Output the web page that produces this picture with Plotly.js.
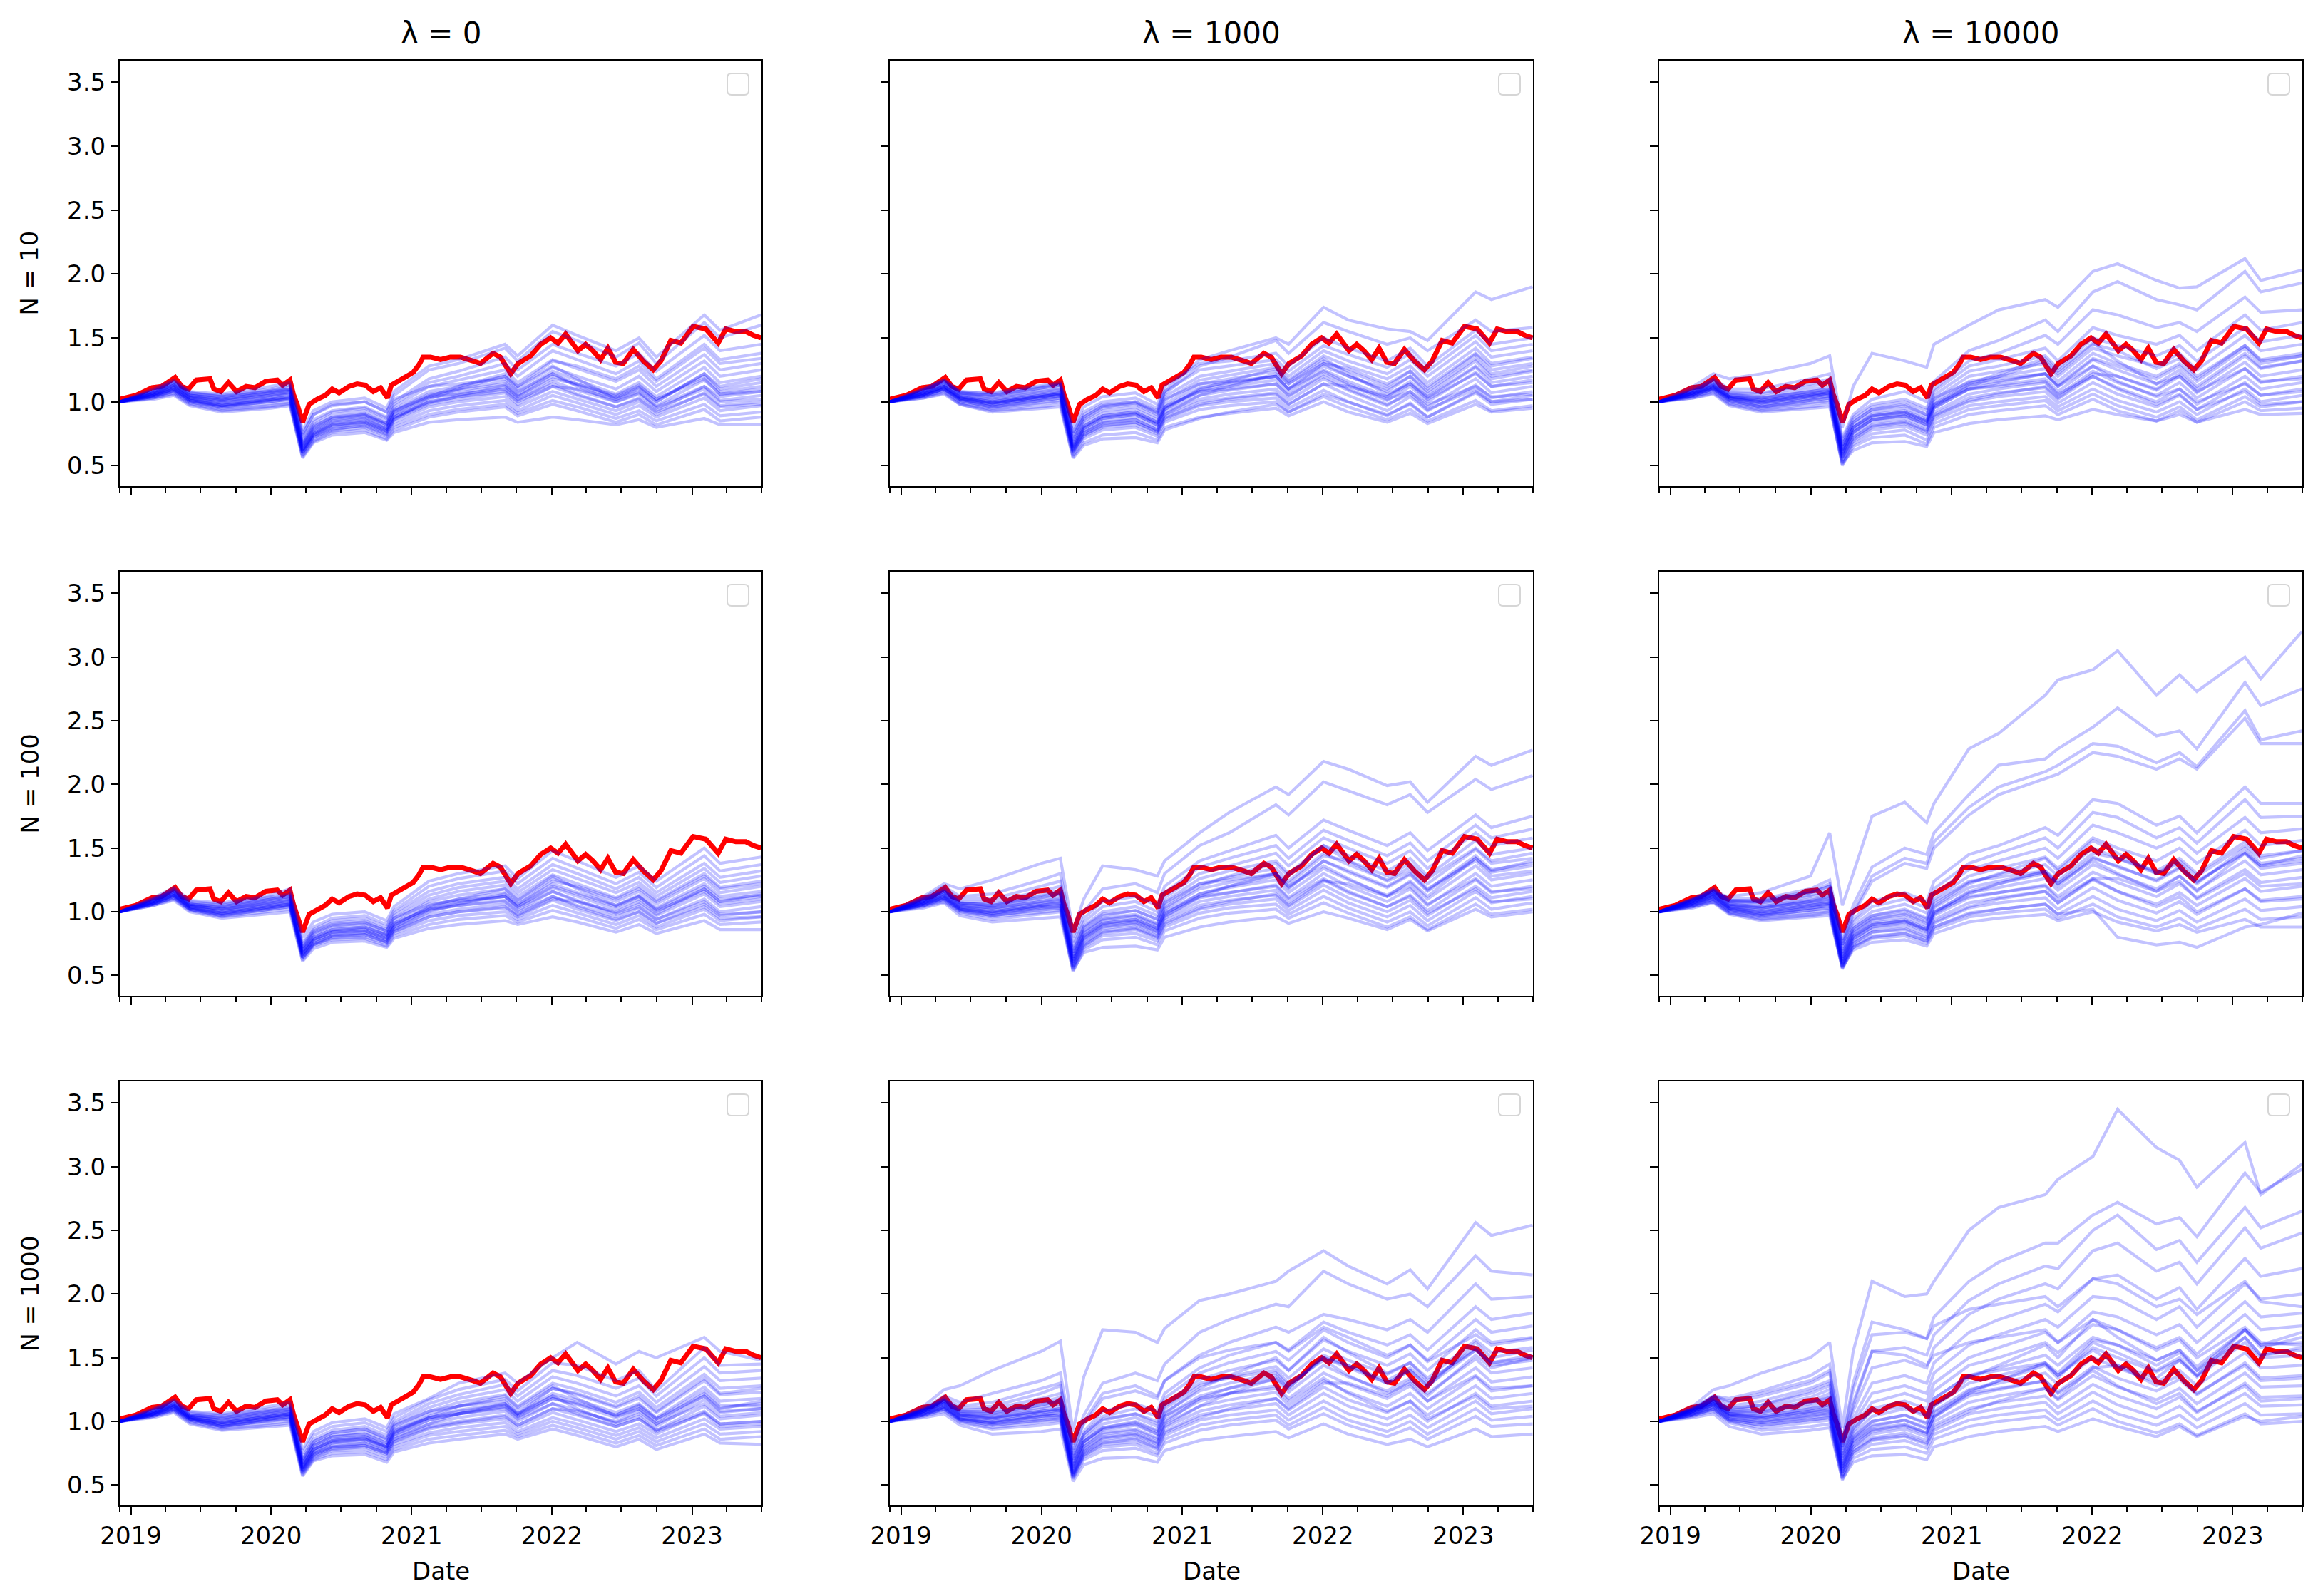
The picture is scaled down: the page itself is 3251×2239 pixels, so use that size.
<!DOCTYPE html>
<html><head><meta charset="utf-8">
<script src="https://cdn.plot.ly/plotly-3.0.1.min.js"></script>
<style>html,body{margin:0;padding:0;background:#fff}#chart{width:3251px;height:2239px}</style>
</head><body><div id="chart"></div>
<script>
const lambdaTitles = ['λ = 0', 'λ = 1000', 'λ = 10000'];
const nLabels = ['N = 10', 'N = 100', 'N = 1000'];
const yearTickVals = ['2019-01-01','2020-01-01','2021-01-01','2022-01-01','2023-01-01'];
const yearTickText = ['2019','2020','2021','2022','2023'];
const quarterTicks = ['2018-12-03','2019-04-01','2019-07-01','2019-10-01','2020-04-01','2020-07-01','2020-10-01','2021-04-01','2021-07-01','2021-10-01','2022-04-01','2022-07-01','2022-10-01','2023-04-01','2023-07-01'];
const yTickVals = [0.5,1.0,1.5,2.0,2.5,3.0,3.5];
const yTickText = ['0.5','1.0','1.5','2.0','2.5','3.0','3.5'];

const redDates = ['2018-12-03','2019-01-14','2019-02-04','2019-02-25','2019-03-22','2019-04-12','2019-04-26','2019-05-13','2019-05-31','2019-06-20','2019-07-26','2019-08-05','2019-08-23','2019-09-12','2019-10-03','2019-10-28','2019-11-20','2019-12-18','2020-01-17','2020-01-31','2020-02-19','2020-02-28','2020-03-09','2020-03-23','2020-04-09','2020-04-30','2020-05-21','2020-06-08','2020-06-26','2020-07-22','2020-08-12','2020-09-02','2020-09-23','2020-10-12','2020-10-30','2020-11-09','2020-12-02','2021-01-05','2021-01-20','2021-01-31','2021-02-19','2021-03-17','2021-04-12','2021-05-08','2021-06-10','2021-06-29','2021-08-01','2021-08-20','2021-09-16','2021-10-05','2021-11-07','2021-12-03','2021-12-29','2022-01-17','2022-02-06','2022-02-25','2022-03-10','2022-03-30','2022-04-18','2022-05-08','2022-05-27','2022-06-16','2022-07-06','2022-08-01','2022-08-27','2022-09-22','2022-10-12','2022-11-07','2022-12-03','2023-01-04','2023-02-06','2023-03-10','2023-03-30','2023-04-25','2023-05-21','2023-06-10','2023-06-30'];
const redValues = [1.02,1.05,1.08,1.11,1.12,1.16,1.19,1.12,1.10,1.17,1.18,1.10,1.08,1.15,1.08,1.12,1.11,1.16,1.17,1.13,1.17,1.06,0.98,0.84,0.98,1.02,1.05,1.10,1.07,1.12,1.14,1.13,1.08,1.11,1.03,1.13,1.17,1.23,1.29,1.35,1.35,1.33,1.35,1.35,1.32,1.30,1.38,1.35,1.22,1.30,1.36,1.45,1.50,1.46,1.53,1.46,1.40,1.45,1.40,1.33,1.42,1.31,1.30,1.41,1.32,1.25,1.32,1.48,1.46,1.59,1.57,1.46,1.57,1.55,1.55,1.52,1.50];

const blueDates = ['2018-12-03','2019-03-01','2019-04-23','2019-06-03','2019-08-26','2019-12-31','2020-02-19','2020-03-23','2020-04-20','2020-06-08','2020-09-01','2020-10-28','2020-11-16','2021-02-15','2021-05-03','2021-09-01','2021-10-04','2022-01-03','2022-03-08','2022-06-17','2022-08-16','2022-09-30','2023-02-02','2023-03-15','2023-06-30'];

const blue_N10_L0 = [
[1.00,1.10,1.17,1.08,1.06,1.12,1.15,0.78,0.93,1.00,1.03,0.95,1.08,1.28,1.33,1.45,1.36,1.60,1.52,1.40,1.50,1.35,1.68,1.56,1.68],
[1.00,1.09,1.16,1.07,1.05,1.10,1.13,0.75,0.90,0.97,1.00,0.92,1.05,1.25,1.30,1.42,1.32,1.55,1.48,1.35,1.46,1.30,1.62,1.50,1.60],
[1.00,1.08,1.15,1.06,1.04,1.08,1.10,0.72,0.86,0.93,0.96,0.88,1.00,1.18,1.24,1.35,1.25,1.45,1.38,1.28,1.38,1.24,1.52,1.40,1.45],
[1.00,1.08,1.14,1.05,1.02,1.07,1.10,0.70,0.84,0.92,0.95,0.87,0.98,1.15,1.20,1.30,1.20,1.40,1.33,1.22,1.32,1.18,1.45,1.33,1.38],
[1.00,1.07,1.13,1.04,1.01,1.06,1.08,0.68,0.82,0.90,0.93,0.85,0.96,1.12,1.17,1.25,1.15,1.33,1.26,1.16,1.25,1.12,1.37,1.25,1.30],
[1.00,1.07,1.13,1.05,1.03,1.08,1.10,0.66,0.80,0.88,0.91,0.83,0.94,1.08,1.12,1.20,1.10,1.27,1.20,1.10,1.20,1.08,1.32,1.20,1.25],
[1.00,1.06,1.12,1.03,0.99,1.04,1.06,0.65,0.78,0.86,0.89,0.82,0.92,1.05,1.10,1.16,1.07,1.24,1.17,1.06,1.15,1.04,1.27,1.15,1.20],
[1.00,1.06,1.11,1.03,1.00,1.05,1.07,0.64,0.77,0.85,0.88,0.80,0.90,1.03,1.07,1.13,1.04,1.20,1.13,1.03,1.11,1.00,1.22,1.10,1.15],
[1.00,1.05,1.10,1.02,0.98,1.02,1.04,0.62,0.75,0.83,0.86,0.79,0.88,1.00,1.04,1.10,1.01,1.16,1.09,1.00,1.07,0.97,1.17,1.06,1.10],
[1.00,1.05,1.10,1.01,0.97,1.01,1.03,0.62,0.74,0.82,0.84,0.77,0.86,0.98,1.02,1.07,0.98,1.12,1.05,0.96,1.03,0.93,1.12,1.01,1.05],
[1.00,1.04,1.09,1.01,0.96,1.00,1.02,0.60,0.73,0.80,0.83,0.76,0.84,0.96,1.00,1.04,0.96,1.08,1.02,0.93,1.00,0.90,1.07,0.97,1.00],
[1.00,1.04,1.08,1.00,0.95,0.99,1.00,0.60,0.72,0.79,0.81,0.74,0.82,0.93,0.97,1.01,0.93,1.05,0.99,0.90,0.97,0.88,1.03,0.93,0.97],
[1.00,1.03,1.07,0.99,0.94,0.97,0.99,0.58,0.70,0.77,0.80,0.73,0.80,0.90,0.94,0.98,0.91,1.01,0.96,0.87,0.93,0.85,0.98,0.89,0.92],
[1.00,1.03,1.06,0.98,0.93,0.96,0.98,0.57,0.69,0.76,0.78,0.71,0.78,0.88,0.92,0.96,0.89,0.98,0.93,0.84,0.90,0.82,0.94,0.85,0.88],
[1.00,1.02,1.05,0.97,0.92,0.95,0.97,0.56,0.68,0.74,0.76,0.70,0.76,0.84,0.86,0.88,0.84,0.88,0.86,0.82,0.86,0.80,0.87,0.82,0.82],
[1.00,1.06,1.12,1.04,1.01,1.05,1.08,0.66,0.79,0.87,0.90,0.82,0.93,1.06,1.09,1.14,1.05,1.22,1.14,1.04,1.12,1.02,1.20,1.08,1.12],
[1.00,1.04,1.08,1.00,0.96,1.00,1.02,0.60,0.72,0.78,0.82,0.75,0.86,1.02,1.10,1.20,1.12,1.32,1.28,1.18,1.28,1.16,1.42,1.30,1.34],
[1.00,1.08,1.15,1.07,1.04,1.09,1.12,0.74,0.90,0.98,1.00,0.92,1.02,1.12,1.14,1.18,1.08,1.22,1.12,1.00,1.06,0.95,1.10,1.00,1.02],
[1.00,1.06,1.11,1.03,0.99,1.03,1.06,0.63,0.76,0.84,0.87,0.79,0.90,1.04,1.12,1.22,1.12,1.28,1.18,1.02,1.08,0.96,1.12,1.04,1.08],
[1.00,1.05,1.10,1.02,0.97,1.02,1.04,0.61,0.74,0.81,0.84,0.77,0.87,0.99,1.04,1.08,1.00,1.12,1.10,1.02,1.10,1.00,1.22,1.12,1.18],
[1.00,1.07,1.13,1.05,1.02,1.07,1.09,0.67,0.81,0.88,0.90,0.83,0.93,1.04,1.06,1.10,1.02,1.14,1.06,0.96,1.02,0.92,1.06,0.96,0.98],
[1.00,1.05,1.09,1.01,0.97,1.01,1.03,0.62,0.75,0.82,0.85,0.78,0.88,1.00,1.05,1.12,1.04,1.18,1.14,1.05,1.13,1.02,1.18,1.06,1.08]
];
const blue_N10_L1000 = [
[1.00,1.10,1.17,1.08,1.06,1.12,1.14,0.76,0.90,0.98,1.00,0.93,1.08,1.33,1.40,1.50,1.45,1.74,1.64,1.57,1.55,1.48,1.86,1.80,1.90],
[1.00,1.09,1.16,1.07,1.05,1.11,1.13,0.74,0.88,0.97,1.00,0.92,1.06,1.28,1.35,1.48,1.38,1.62,1.55,1.45,1.50,1.40,1.64,1.55,1.58],
[1.00,1.10,1.17,1.08,1.07,1.13,1.15,0.80,0.96,1.04,1.07,0.98,1.12,1.30,1.32,1.38,1.28,1.50,1.42,1.32,1.42,1.28,1.56,1.45,1.50],
[1.00,1.09,1.16,1.07,1.05,1.11,1.13,0.76,0.92,1.00,1.03,0.95,1.08,1.25,1.28,1.33,1.24,1.44,1.37,1.27,1.38,1.24,1.52,1.40,1.45],
[1.00,1.08,1.15,1.06,1.04,1.09,1.11,0.72,0.88,0.96,0.99,0.91,1.04,1.20,1.24,1.30,1.20,1.40,1.32,1.22,1.33,1.20,1.47,1.35,1.40],
[1.00,1.08,1.14,1.05,1.02,1.07,1.09,0.70,0.85,0.93,0.96,0.88,1.01,1.17,1.21,1.27,1.17,1.36,1.28,1.18,1.28,1.15,1.42,1.30,1.35],
[1.00,1.07,1.13,1.04,1.01,1.06,1.08,0.68,0.83,0.91,0.94,0.86,0.98,1.14,1.18,1.24,1.14,1.32,1.24,1.12,1.24,1.10,1.37,1.25,1.30],
[1.00,1.07,1.12,1.04,1.00,1.05,1.07,0.66,0.81,0.89,0.92,0.84,0.96,1.11,1.15,1.20,1.10,1.28,1.20,1.08,1.20,1.06,1.32,1.20,1.25],
[1.00,1.06,1.12,1.03,0.99,1.04,1.06,0.64,0.79,0.87,0.90,0.82,0.94,1.08,1.12,1.17,1.07,1.25,1.16,1.04,1.16,1.03,1.27,1.15,1.20],
[1.00,1.06,1.11,1.02,0.98,1.03,1.05,0.63,0.77,0.85,0.88,0.80,0.92,1.05,1.09,1.14,1.04,1.22,1.13,1.01,1.12,1.00,1.23,1.12,1.17],
[1.00,1.05,1.10,1.02,0.97,1.02,1.04,0.62,0.76,0.84,0.86,0.78,0.90,1.02,1.06,1.10,1.01,1.18,1.09,0.97,1.08,0.96,1.18,1.07,1.12],
[1.00,1.05,1.10,1.01,0.96,1.01,1.03,0.61,0.74,0.82,0.84,0.77,0.88,1.00,1.03,1.07,0.98,1.14,1.05,0.93,1.04,0.93,1.13,1.03,1.08],
[1.00,1.04,1.09,1.00,0.95,0.99,1.01,0.60,0.73,0.80,0.82,0.75,0.86,0.97,1.00,1.03,0.95,1.09,1.00,0.89,0.99,0.88,1.07,0.98,1.02],
[1.00,1.04,1.08,0.99,0.94,0.98,1.00,0.58,0.71,0.78,0.80,0.73,0.84,0.94,0.97,1.00,0.92,1.04,0.96,0.86,0.94,0.85,1.01,0.93,0.97],
[1.00,1.03,1.07,0.98,0.93,0.96,0.98,0.57,0.68,0.74,0.76,0.70,0.80,0.88,0.91,0.95,0.89,1.00,0.92,0.84,0.91,0.83,0.98,0.92,0.95],
[1.00,1.03,1.06,0.98,0.92,0.95,0.96,0.56,0.66,0.71,0.72,0.68,0.78,0.87,0.92,0.98,0.92,1.06,1.00,0.90,0.98,0.88,1.08,1.00,1.05],
[1.00,1.05,1.10,1.02,0.98,1.03,1.05,0.62,0.76,0.83,0.86,0.78,0.90,1.05,1.12,1.22,1.14,1.30,1.26,1.14,1.24,1.12,1.38,1.28,1.34],
[1.00,1.08,1.14,1.06,1.03,1.08,1.10,0.70,0.86,0.95,0.98,0.90,1.02,1.14,1.16,1.20,1.10,1.24,1.14,1.02,1.08,0.98,1.12,1.04,1.06],
[1.00,1.06,1.11,1.03,0.99,1.04,1.06,0.64,0.79,0.87,0.90,0.82,0.94,1.10,1.16,1.26,1.16,1.34,1.22,1.06,1.14,1.02,1.22,1.12,1.15],
[1.00,1.05,1.10,1.01,0.96,1.01,1.03,0.61,0.74,0.81,0.84,0.76,0.87,0.98,1.02,1.06,0.98,1.14,1.12,1.04,1.14,1.04,1.28,1.18,1.24],
[1.00,1.07,1.12,1.04,1.00,1.05,1.07,0.66,0.81,0.89,0.92,0.84,0.96,1.08,1.10,1.14,1.05,1.20,1.10,0.98,1.06,0.94,1.10,1.00,1.02],
[1.00,1.06,1.12,1.03,0.99,1.04,1.06,0.65,0.80,0.88,0.91,0.83,0.95,1.09,1.14,1.20,1.10,1.30,1.20,1.10,1.20,1.08,1.34,1.22,1.28]
];
const blue_N10_L10000 = [
[1.00,1.12,1.22,1.18,1.22,1.30,1.36,0.80,1.12,1.38,1.32,1.27,1.45,1.60,1.72,1.80,1.74,2.02,2.08,1.95,1.89,1.90,2.12,1.95,2.03],
[1.00,1.10,1.18,1.10,1.10,1.18,1.22,0.72,0.90,1.02,1.08,1.00,1.16,1.40,1.48,1.64,1.55,1.86,1.94,1.80,1.76,1.72,2.02,1.86,1.93],
[1.00,1.09,1.17,1.08,1.07,1.14,1.18,0.70,0.88,0.98,1.02,0.95,1.10,1.32,1.38,1.52,1.45,1.72,1.68,1.58,1.62,1.55,1.82,1.70,1.72],
[1.00,1.09,1.16,1.07,1.06,1.12,1.15,0.68,0.86,0.96,1.00,0.93,1.08,1.28,1.33,1.42,1.32,1.58,1.52,1.45,1.52,1.40,1.68,1.56,1.62],
[1.00,1.08,1.15,1.06,1.04,1.10,1.12,0.66,0.84,0.94,0.98,0.90,1.05,1.24,1.28,1.36,1.26,1.50,1.44,1.36,1.44,1.32,1.58,1.47,1.52],
[1.00,1.08,1.14,1.05,1.03,1.08,1.10,0.64,0.82,0.92,0.95,0.88,1.02,1.20,1.24,1.30,1.20,1.42,1.36,1.28,1.38,1.25,1.52,1.40,1.45],
[1.00,1.07,1.13,1.04,1.02,1.07,1.09,0.62,0.80,0.90,0.93,0.86,1.00,1.16,1.20,1.26,1.16,1.38,1.30,1.20,1.30,1.18,1.44,1.33,1.38],
[1.00,1.07,1.12,1.04,1.01,1.06,1.08,0.60,0.78,0.88,0.91,0.84,0.97,1.13,1.16,1.22,1.12,1.33,1.25,1.14,1.25,1.12,1.38,1.27,1.32],
[1.00,1.06,1.12,1.03,1.00,1.05,1.07,0.58,0.76,0.86,0.89,0.82,0.95,1.10,1.13,1.18,1.08,1.28,1.20,1.09,1.20,1.07,1.31,1.20,1.25],
[1.00,1.06,1.11,1.02,0.98,1.03,1.05,0.57,0.74,0.84,0.87,0.80,0.92,1.06,1.10,1.15,1.05,1.24,1.15,1.05,1.15,1.03,1.26,1.15,1.20],
[1.00,1.05,1.10,1.02,0.97,1.02,1.04,0.56,0.72,0.82,0.85,0.78,0.90,1.03,1.07,1.11,1.02,1.20,1.11,1.00,1.10,0.98,1.20,1.10,1.15],
[1.00,1.05,1.10,1.01,0.96,1.01,1.03,0.54,0.70,0.80,0.83,0.76,0.88,1.00,1.04,1.08,0.99,1.15,1.06,0.96,1.05,0.94,1.15,1.05,1.10],
[1.00,1.04,1.09,1.00,0.95,0.99,1.01,0.53,0.69,0.78,0.81,0.74,0.86,0.97,1.00,1.04,0.96,1.10,1.01,0.92,1.00,0.90,1.10,1.00,1.05],
[1.00,1.04,1.08,0.99,0.94,0.98,1.00,0.51,0.67,0.75,0.78,0.70,0.83,0.94,0.97,1.01,0.93,1.06,0.97,0.88,0.96,0.86,1.04,0.96,1.00],
[1.00,1.03,1.07,0.98,0.93,0.96,0.98,0.50,0.65,0.72,0.74,0.67,0.80,0.90,0.93,0.97,0.90,1.02,0.93,0.85,0.93,0.84,1.00,0.93,0.95],
[1.00,1.03,1.06,0.97,0.92,0.95,0.96,0.52,0.62,0.68,0.69,0.65,0.76,0.83,0.86,0.89,0.86,0.94,0.90,0.85,0.90,0.84,0.94,0.90,0.91],
[1.00,1.06,1.11,1.03,0.99,1.04,1.06,0.60,0.77,0.86,0.90,0.83,0.96,1.12,1.20,1.32,1.22,1.45,1.40,1.26,1.34,1.20,1.44,1.32,1.36],
[1.00,1.08,1.14,1.06,1.03,1.08,1.10,0.66,0.84,0.94,0.97,0.90,1.03,1.15,1.18,1.22,1.12,1.28,1.16,1.04,1.10,1.00,1.14,1.05,1.08],
[1.00,1.07,1.12,1.04,1.00,1.05,1.07,0.62,0.80,0.89,0.92,0.85,0.98,1.14,1.22,1.34,1.24,1.46,1.32,1.14,1.20,1.08,1.26,1.16,1.18],
[1.00,1.05,1.10,1.01,0.96,1.01,1.03,0.56,0.72,0.81,0.84,0.77,0.89,1.01,1.06,1.12,1.03,1.22,1.20,1.10,1.22,1.10,1.36,1.26,1.32],
[1.00,1.07,1.13,1.04,1.01,1.06,1.08,0.63,0.80,0.89,0.92,0.85,0.98,1.10,1.12,1.16,1.06,1.20,1.10,0.98,1.06,0.94,1.08,0.98,1.00],
[1.00,1.06,1.11,1.03,0.99,1.04,1.06,0.59,0.76,0.86,0.89,0.82,0.95,1.10,1.15,1.22,1.13,1.34,1.28,1.18,1.28,1.16,1.42,1.30,1.36]
];
const blue_N100_L0 = [
[1.00,1.11,1.19,1.09,1.07,1.13,1.18,0.80,0.92,0.98,1.00,0.93,1.04,1.24,1.30,1.36,1.26,1.48,1.40,1.27,1.36,1.24,1.50,1.38,1.43],
[1.00,1.10,1.18,1.08,1.06,1.12,1.14,0.76,0.88,0.95,0.97,0.90,1.01,1.20,1.26,1.32,1.22,1.42,1.34,1.22,1.31,1.19,1.44,1.32,1.37],
[1.00,1.10,1.17,1.07,1.05,1.11,1.13,0.74,0.86,0.93,0.95,0.88,0.99,1.16,1.22,1.27,1.18,1.37,1.30,1.18,1.27,1.15,1.38,1.27,1.32],
[1.00,1.09,1.16,1.06,1.04,1.10,1.12,0.72,0.85,0.91,0.93,0.86,0.97,1.13,1.19,1.24,1.15,1.33,1.26,1.15,1.23,1.12,1.34,1.23,1.28],
[1.00,1.09,1.16,1.06,1.03,1.09,1.11,0.71,0.83,0.89,0.91,0.85,0.95,1.10,1.16,1.21,1.12,1.29,1.22,1.11,1.20,1.09,1.30,1.19,1.24],
[1.00,1.08,1.15,1.05,1.02,1.08,1.10,0.70,0.82,0.88,0.90,0.83,0.93,1.08,1.13,1.18,1.09,1.26,1.19,1.08,1.16,1.06,1.26,1.15,1.20],
[1.00,1.08,1.15,1.05,1.02,1.07,1.09,0.69,0.80,0.86,0.88,0.82,0.91,1.05,1.10,1.15,1.06,1.22,1.15,1.05,1.13,1.03,1.22,1.12,1.16],
[1.00,1.08,1.14,1.04,1.01,1.06,1.08,0.68,0.79,0.85,0.87,0.81,0.90,1.03,1.08,1.12,1.04,1.19,1.12,1.02,1.10,1.00,1.18,1.08,1.12],
[1.00,1.07,1.13,1.04,1.00,1.05,1.07,0.67,0.78,0.84,0.85,0.79,0.88,1.01,1.05,1.09,1.01,1.16,1.09,0.99,1.06,0.97,1.14,1.04,1.08],
[1.00,1.07,1.13,1.03,0.99,1.04,1.06,0.66,0.77,0.82,0.84,0.78,0.86,0.98,1.02,1.06,0.98,1.12,1.05,0.96,1.03,0.94,1.10,1.00,1.04],
[1.00,1.06,1.12,1.03,0.98,1.03,1.05,0.65,0.75,0.81,0.82,0.76,0.84,0.96,1.00,1.03,0.96,1.09,1.02,0.93,1.00,0.91,1.06,0.97,1.00],
[1.00,1.06,1.11,1.02,0.97,1.02,1.04,0.64,0.74,0.79,0.80,0.75,0.83,0.93,0.97,1.00,0.94,1.05,0.99,0.90,0.97,0.88,1.02,0.93,0.96],
[1.00,1.05,1.10,1.01,0.96,1.00,1.02,0.62,0.73,0.78,0.79,0.73,0.81,0.90,0.94,0.97,0.92,1.01,0.96,0.87,0.94,0.86,0.98,0.90,0.92],
[1.00,1.05,1.09,1.00,0.95,0.99,1.00,0.61,0.71,0.76,0.77,0.72,0.79,0.87,0.90,0.93,0.90,0.96,0.92,0.84,0.90,0.83,0.93,0.86,0.86],
[1.00,1.06,1.12,1.02,0.98,1.03,1.05,0.64,0.75,0.81,0.83,0.77,0.86,1.00,1.06,1.14,1.06,1.24,1.20,1.10,1.18,1.08,1.28,1.18,1.22],
[1.00,1.09,1.16,1.06,1.04,1.10,1.12,0.72,0.84,0.90,0.92,0.85,0.95,1.06,1.09,1.12,1.03,1.16,1.08,0.98,1.04,0.94,1.08,0.98,1.00],
[1.00,1.07,1.13,1.04,1.00,1.05,1.07,0.67,0.78,0.84,0.86,0.80,0.89,1.04,1.10,1.18,1.09,1.28,1.18,1.05,1.12,1.01,1.16,1.06,1.10],
[1.00,1.06,1.11,1.02,0.97,1.02,1.04,0.64,0.74,0.80,0.82,0.76,0.85,0.96,1.00,1.04,0.97,1.10,1.08,1.00,1.08,0.98,1.18,1.08,1.14],
[1.00,1.08,1.14,1.05,1.02,1.07,1.09,0.69,0.80,0.86,0.88,0.82,0.91,1.02,1.05,1.08,1.00,1.12,1.04,0.94,1.00,0.91,1.04,0.95,0.96],
[1.00,1.07,1.13,1.03,0.99,1.04,1.06,0.66,0.77,0.83,0.85,0.79,0.88,1.02,1.07,1.12,1.04,1.20,1.14,1.04,1.12,1.02,1.20,1.10,1.13]
];
const blue_N100_L1000 = [
[1.00,1.12,1.22,1.18,1.25,1.38,1.42,0.85,1.10,1.36,1.33,1.28,1.40,1.62,1.78,1.98,1.92,2.18,2.12,1.99,2.02,1.86,2.22,2.15,2.27],
[1.00,1.11,1.20,1.12,1.14,1.25,1.30,0.80,1.00,1.18,1.22,1.15,1.30,1.52,1.62,1.84,1.76,2.02,1.95,1.84,1.92,1.78,2.04,1.96,2.07],
[1.00,1.10,1.18,1.10,1.10,1.20,1.24,0.76,0.95,1.08,1.12,1.05,1.20,1.40,1.48,1.60,1.50,1.72,1.64,1.52,1.62,1.48,1.76,1.66,1.75],
[1.00,1.10,1.17,1.08,1.08,1.16,1.20,0.73,0.92,1.04,1.08,1.00,1.15,1.35,1.42,1.52,1.42,1.64,1.56,1.44,1.54,1.40,1.68,1.58,1.65],
[1.00,1.09,1.16,1.07,1.06,1.13,1.17,0.70,0.89,1.00,1.04,0.97,1.11,1.30,1.36,1.46,1.36,1.58,1.50,1.38,1.48,1.34,1.62,1.52,1.58],
[1.00,1.09,1.16,1.07,1.05,1.12,1.15,0.68,0.87,0.97,1.01,0.94,1.08,1.26,1.32,1.40,1.30,1.52,1.44,1.32,1.42,1.28,1.56,1.45,1.50],
[1.00,1.08,1.15,1.06,1.04,1.10,1.13,0.66,0.85,0.95,0.98,0.91,1.05,1.22,1.27,1.34,1.24,1.46,1.37,1.25,1.35,1.22,1.49,1.38,1.42],
[1.00,1.08,1.14,1.05,1.03,1.08,1.11,0.64,0.83,0.93,0.96,0.89,1.02,1.18,1.23,1.30,1.19,1.40,1.31,1.19,1.29,1.16,1.42,1.31,1.36],
[1.00,1.07,1.13,1.04,1.02,1.07,1.09,0.62,0.81,0.91,0.94,0.87,1.00,1.14,1.19,1.25,1.15,1.34,1.25,1.13,1.23,1.10,1.36,1.25,1.30],
[1.00,1.07,1.12,1.03,1.00,1.05,1.07,0.60,0.79,0.89,0.92,0.85,0.97,1.11,1.15,1.21,1.11,1.30,1.20,1.08,1.18,1.05,1.30,1.20,1.25],
[1.00,1.06,1.11,1.02,0.99,1.04,1.05,0.58,0.77,0.87,0.90,0.83,0.95,1.08,1.12,1.17,1.07,1.25,1.15,1.04,1.13,1.01,1.25,1.15,1.20],
[1.00,1.06,1.11,1.02,0.98,1.03,1.04,0.57,0.75,0.85,0.88,0.81,0.93,1.05,1.09,1.13,1.04,1.21,1.11,1.00,1.09,0.97,1.20,1.11,1.16],
[1.00,1.05,1.10,1.01,0.97,1.01,1.03,0.56,0.73,0.83,0.86,0.79,0.90,1.02,1.06,1.10,1.01,1.17,1.07,0.96,1.05,0.93,1.16,1.07,1.12],
[1.00,1.05,1.09,1.00,0.96,1.00,1.01,0.55,0.72,0.81,0.83,0.77,0.88,0.99,1.03,1.06,0.98,1.12,1.03,0.92,1.00,0.89,1.11,1.02,1.07],
[1.00,1.04,1.08,0.99,0.94,0.98,1.00,0.53,0.70,0.78,0.80,0.74,0.85,0.95,0.99,1.02,0.95,1.07,0.99,0.88,0.96,0.86,1.06,0.98,1.02],
[1.00,1.03,1.07,0.97,0.92,0.95,0.96,0.54,0.68,0.72,0.73,0.70,0.80,0.88,0.92,0.96,0.91,1.00,0.95,0.86,0.94,0.85,1.02,0.96,1.00],
[1.00,1.06,1.11,1.02,0.99,1.04,1.05,0.60,0.78,0.88,0.91,0.84,0.96,1.12,1.20,1.30,1.22,1.44,1.40,1.28,1.38,1.26,1.50,1.40,1.46],
[1.00,1.09,1.16,1.07,1.05,1.11,1.14,0.68,0.88,0.98,1.01,0.94,1.07,1.22,1.25,1.30,1.20,1.36,1.26,1.12,1.20,1.06,1.26,1.16,1.18],
[1.00,1.08,1.14,1.05,1.03,1.08,1.10,0.64,0.84,0.94,0.97,0.90,1.03,1.20,1.28,1.38,1.28,1.52,1.40,1.24,1.32,1.18,1.40,1.28,1.32],
[1.00,1.05,1.10,1.01,0.97,1.02,1.03,0.57,0.74,0.84,0.87,0.80,0.91,1.03,1.08,1.14,1.05,1.24,1.22,1.12,1.24,1.12,1.42,1.32,1.40],
[1.00,1.07,1.13,1.04,1.01,1.06,1.08,0.62,0.81,0.91,0.94,0.87,0.99,1.12,1.15,1.20,1.10,1.26,1.16,1.04,1.12,0.99,1.18,1.08,1.10],
[1.00,1.07,1.12,1.03,1.00,1.05,1.07,0.61,0.80,0.90,0.93,0.86,0.98,1.14,1.20,1.28,1.18,1.40,1.32,1.20,1.30,1.17,1.44,1.33,1.38]
];
const blue_N100_L10000 = [
[1.00,1.08,1.14,1.12,1.15,1.28,1.62,1.05,1.30,1.75,1.86,1.70,1.85,2.28,2.40,2.70,2.82,2.90,3.05,2.70,2.86,2.73,3.00,2.83,3.20],
[1.00,1.10,1.18,1.10,1.10,1.18,1.25,0.78,1.05,1.35,1.50,1.45,1.62,1.92,2.15,2.20,2.28,2.45,2.60,2.38,2.42,2.28,2.80,2.62,2.75],
[1.00,1.10,1.17,1.09,1.09,1.16,1.22,0.76,1.00,1.28,1.42,1.38,1.55,1.82,1.98,2.10,2.15,2.32,2.30,2.17,2.25,2.14,2.58,2.35,2.42],
[1.00,1.09,1.16,1.08,1.08,1.15,1.20,0.74,0.98,1.24,1.38,1.34,1.50,1.76,1.92,2.05,2.08,2.25,2.22,2.12,2.20,2.12,2.52,2.32,2.32],
[1.00,1.10,1.17,1.09,1.08,1.15,1.20,0.74,0.94,1.08,1.15,1.08,1.24,1.45,1.52,1.66,1.60,1.88,1.85,1.68,1.75,1.62,1.98,1.85,1.85],
[1.00,1.09,1.16,1.08,1.07,1.13,1.17,0.72,0.92,1.04,1.10,1.03,1.18,1.38,1.46,1.58,1.50,1.78,1.74,1.58,1.66,1.54,1.88,1.74,1.75],
[1.00,1.09,1.16,1.07,1.06,1.12,1.15,0.70,0.89,1.00,1.06,0.99,1.14,1.33,1.40,1.50,1.42,1.68,1.62,1.50,1.58,1.46,1.74,1.62,1.65],
[1.00,1.08,1.15,1.06,1.04,1.10,1.13,0.68,0.87,0.97,1.02,0.95,1.10,1.28,1.34,1.43,1.34,1.58,1.50,1.40,1.50,1.38,1.64,1.52,1.56],
[1.00,1.08,1.14,1.05,1.03,1.08,1.11,0.66,0.85,0.95,0.99,0.92,1.06,1.23,1.29,1.37,1.28,1.50,1.42,1.32,1.42,1.30,1.55,1.44,1.48],
[1.00,1.07,1.13,1.04,1.02,1.07,1.09,0.64,0.83,0.93,0.96,0.89,1.03,1.19,1.24,1.31,1.22,1.43,1.35,1.25,1.35,1.23,1.47,1.36,1.40],
[1.00,1.07,1.12,1.03,1.00,1.05,1.07,0.62,0.81,0.90,0.93,0.86,1.00,1.15,1.19,1.26,1.17,1.37,1.29,1.18,1.28,1.17,1.40,1.29,1.33],
[1.00,1.06,1.12,1.03,0.99,1.04,1.06,0.60,0.79,0.88,0.91,0.84,0.97,1.11,1.15,1.21,1.12,1.31,1.23,1.12,1.22,1.11,1.33,1.23,1.27],
[1.00,1.06,1.11,1.02,0.98,1.03,1.05,0.59,0.77,0.86,0.89,0.82,0.94,1.07,1.11,1.16,1.07,1.25,1.16,1.06,1.15,1.05,1.26,1.16,1.20],
[1.00,1.05,1.10,1.01,0.97,1.01,1.03,0.58,0.75,0.84,0.86,0.79,0.91,1.03,1.07,1.11,1.02,1.19,1.09,0.99,1.08,0.98,1.18,1.09,1.12],
[1.00,1.05,1.09,1.00,0.96,1.00,1.01,0.57,0.73,0.81,0.83,0.77,0.88,0.99,1.02,1.06,0.98,1.12,1.02,0.93,1.01,0.92,1.10,1.01,1.04],
[1.00,1.04,1.08,0.99,0.95,0.98,1.00,0.56,0.72,0.79,0.81,0.75,0.86,0.96,0.99,1.02,0.95,1.06,0.96,0.88,0.95,0.87,1.02,0.94,0.96],
[1.00,1.04,1.08,0.99,0.94,0.97,0.99,0.55,0.72,0.80,0.83,0.77,0.88,0.98,1.02,1.06,0.98,1.02,0.80,0.74,0.76,0.72,0.88,0.90,0.99],
[1.00,1.03,1.07,0.98,0.93,0.96,0.97,0.56,0.70,0.76,0.78,0.73,0.83,0.92,0.95,0.98,0.93,1.00,0.92,0.85,0.90,0.84,0.94,0.88,0.88],
[1.00,1.06,1.11,1.02,0.98,1.03,1.05,0.59,0.78,0.88,0.92,0.85,0.98,1.14,1.22,1.32,1.24,1.46,1.42,1.30,1.40,1.28,1.52,1.42,1.48],
[1.00,1.09,1.15,1.06,1.04,1.09,1.12,0.67,0.87,0.97,1.01,0.94,1.08,1.24,1.27,1.32,1.22,1.40,1.30,1.16,1.24,1.10,1.30,1.20,1.22],
[1.00,1.08,1.14,1.05,1.03,1.08,1.10,0.64,0.84,0.94,0.98,0.91,1.04,1.22,1.30,1.42,1.32,1.56,1.46,1.30,1.38,1.24,1.46,1.34,1.38],
[1.00,1.05,1.10,1.01,0.97,1.01,1.03,0.57,0.75,0.84,0.87,0.80,0.92,1.04,1.10,1.16,1.07,1.26,1.26,1.16,1.28,1.16,1.46,1.36,1.44],
[1.00,1.07,1.13,1.04,1.01,1.06,1.08,0.62,0.81,0.91,0.94,0.87,1.00,1.12,1.15,1.20,1.10,1.26,1.16,1.04,1.12,1.00,1.18,1.08,1.10],
[1.00,1.07,1.12,1.03,1.00,1.05,1.07,0.61,0.80,0.90,0.93,0.86,0.99,1.16,1.22,1.30,1.20,1.42,1.36,1.24,1.34,1.22,1.50,1.38,1.42]
];
const blue_N1000_L0 = [
[1.00,1.10,1.17,1.08,1.06,1.12,1.15,0.78,0.92,0.99,1.02,0.95,1.06,1.18,1.30,1.38,1.30,1.50,1.62,1.45,1.55,1.50,1.66,1.55,1.48],
[1.00,1.09,1.16,1.07,1.05,1.10,1.13,0.75,0.89,0.96,0.99,0.92,1.03,1.17,1.25,1.33,1.24,1.46,1.44,1.32,1.40,1.24,1.58,1.44,1.45],
[1.00,1.09,1.15,1.06,1.04,1.09,1.11,0.72,0.86,0.93,0.96,0.89,1.00,1.14,1.21,1.29,1.20,1.40,1.36,1.26,1.34,1.20,1.50,1.38,1.40],
[1.00,1.08,1.15,1.05,1.03,1.08,1.10,0.70,0.84,0.91,0.94,0.87,0.98,1.11,1.18,1.25,1.16,1.35,1.30,1.20,1.28,1.15,1.43,1.32,1.34],
[1.00,1.08,1.14,1.05,1.02,1.07,1.09,0.68,0.82,0.89,0.92,0.85,0.96,1.08,1.15,1.21,1.12,1.30,1.25,1.15,1.23,1.11,1.37,1.26,1.28],
[1.00,1.07,1.13,1.04,1.01,1.06,1.08,0.67,0.81,0.88,0.90,0.83,0.94,1.06,1.12,1.18,1.09,1.26,1.21,1.11,1.18,1.07,1.32,1.21,1.23],
[1.00,1.07,1.13,1.04,1.00,1.05,1.07,0.66,0.79,0.86,0.88,0.81,0.92,1.03,1.09,1.14,1.06,1.22,1.17,1.07,1.14,1.03,1.27,1.16,1.18],
[1.00,1.07,1.12,1.03,0.99,1.04,1.06,0.64,0.78,0.84,0.86,0.80,0.90,1.01,1.06,1.11,1.03,1.18,1.13,1.03,1.10,1.00,1.22,1.11,1.14],
[1.00,1.06,1.12,1.03,0.98,1.03,1.05,0.63,0.76,0.83,0.85,0.78,0.88,0.98,1.03,1.08,1.00,1.14,1.09,0.99,1.06,0.96,1.17,1.07,1.10],
[1.00,1.06,1.11,1.02,0.97,1.02,1.04,0.62,0.75,0.81,0.83,0.77,0.86,0.96,1.00,1.05,0.97,1.10,1.05,0.96,1.02,0.93,1.12,1.02,1.05],
[1.00,1.05,1.10,1.02,0.96,1.01,1.03,0.61,0.74,0.80,0.81,0.75,0.84,0.94,0.98,1.02,0.95,1.07,1.01,0.92,0.98,0.90,1.07,0.98,1.00],
[1.00,1.05,1.10,1.01,0.96,1.00,1.02,0.60,0.72,0.78,0.80,0.74,0.82,0.91,0.95,0.99,0.92,1.03,0.98,0.89,0.95,0.87,1.02,0.94,0.96],
[1.00,1.04,1.09,1.00,0.95,0.99,1.00,0.59,0.71,0.77,0.78,0.72,0.80,0.89,0.92,0.96,0.90,1.00,0.95,0.86,0.92,0.84,0.98,0.90,0.92],
[1.00,1.04,1.08,0.99,0.94,0.97,0.99,0.58,0.70,0.75,0.76,0.70,0.78,0.86,0.89,0.93,0.88,0.97,0.92,0.83,0.89,0.81,0.94,0.86,0.88],
[1.00,1.03,1.07,0.98,0.93,0.96,0.97,0.57,0.69,0.73,0.74,0.68,0.76,0.83,0.86,0.90,0.86,0.94,0.89,0.80,0.86,0.78,0.90,0.83,0.82],
[1.00,1.06,1.12,1.03,0.99,1.04,1.06,0.65,0.78,0.85,0.87,0.80,0.91,1.03,1.08,1.13,1.05,1.20,1.15,1.05,1.12,1.02,1.24,1.13,1.12],
[1.00,1.05,1.10,1.02,0.97,1.02,1.04,0.62,0.74,0.80,0.83,0.76,0.86,0.98,1.06,1.14,1.06,1.26,1.22,1.12,1.20,1.08,1.34,1.22,1.26],
[1.00,1.08,1.14,1.05,1.03,1.08,1.10,0.70,0.84,0.91,0.94,0.86,0.97,1.08,1.12,1.16,1.06,1.20,1.10,0.98,1.04,0.93,1.08,0.98,1.00],
[1.00,1.06,1.12,1.03,0.99,1.04,1.06,0.64,0.78,0.85,0.88,0.80,0.91,1.04,1.12,1.20,1.11,1.28,1.18,1.04,1.10,0.98,1.14,1.04,1.07],
[1.00,1.05,1.09,1.01,0.96,1.01,1.02,0.61,0.73,0.79,0.81,0.75,0.84,0.95,0.99,1.04,0.97,1.10,1.08,1.00,1.08,0.98,1.20,1.10,1.16],
[1.00,1.07,1.13,1.04,1.01,1.06,1.08,0.67,0.81,0.88,0.90,0.83,0.93,1.03,1.06,1.10,1.02,1.14,1.06,0.96,1.02,0.92,1.06,0.96,0.98],
[1.00,1.06,1.11,1.02,0.98,1.03,1.05,0.63,0.76,0.83,0.86,0.79,0.89,1.01,1.06,1.12,1.04,1.18,1.14,1.05,1.13,1.02,1.20,1.08,1.10]
];
const blue_N1000_L1000 = [
[1.00,1.12,1.25,1.28,1.40,1.55,1.63,0.92,1.35,1.72,1.70,1.62,1.73,1.95,2.00,2.10,2.18,2.34,2.22,2.08,2.19,2.04,2.56,2.46,2.54],
[1.00,1.10,1.20,1.15,1.22,1.32,1.38,0.82,1.05,1.30,1.38,1.32,1.45,1.70,1.80,1.92,1.90,2.18,2.08,1.96,2.00,1.90,2.30,2.18,2.15],
[1.00,1.10,1.18,1.12,1.15,1.26,1.30,0.78,0.98,1.18,1.24,1.18,1.32,1.52,1.62,1.74,1.70,1.84,1.80,1.72,1.80,1.70,2.08,1.96,1.98],
[1.00,1.09,1.17,1.09,1.10,1.18,1.22,0.74,0.92,1.08,1.14,1.08,1.22,1.42,1.52,1.62,1.56,1.78,1.70,1.60,1.68,1.56,1.90,1.80,1.85],
[1.00,1.09,1.16,1.08,1.08,1.15,1.19,0.72,0.90,1.04,1.10,1.04,1.18,1.38,1.46,1.55,1.48,1.72,1.62,1.50,1.60,1.48,1.80,1.70,1.75],
[1.00,1.09,1.16,1.07,1.06,1.13,1.17,0.70,0.88,1.01,1.06,1.00,1.14,1.33,1.40,1.48,1.40,1.64,1.55,1.44,1.53,1.40,1.72,1.62,1.66],
[1.00,1.08,1.15,1.06,1.05,1.11,1.14,0.68,0.86,0.98,1.03,0.96,1.10,1.28,1.35,1.43,1.34,1.57,1.48,1.37,1.46,1.34,1.64,1.54,1.58],
[1.00,1.08,1.15,1.06,1.04,1.10,1.12,0.66,0.84,0.95,1.00,0.93,1.07,1.24,1.30,1.38,1.28,1.50,1.42,1.30,1.40,1.28,1.56,1.46,1.50],
[1.00,1.08,1.14,1.05,1.03,1.08,1.10,0.64,0.82,0.93,0.97,0.90,1.04,1.20,1.26,1.33,1.23,1.44,1.35,1.24,1.34,1.22,1.49,1.38,1.42],
[1.00,1.07,1.13,1.04,1.02,1.07,1.09,0.62,0.80,0.91,0.94,0.87,1.01,1.16,1.22,1.28,1.18,1.38,1.29,1.18,1.28,1.16,1.42,1.31,1.35],
[1.00,1.07,1.12,1.03,1.00,1.05,1.07,0.60,0.78,0.88,0.91,0.84,0.98,1.12,1.17,1.23,1.13,1.32,1.23,1.12,1.22,1.10,1.35,1.24,1.28],
[1.00,1.06,1.11,1.02,0.99,1.04,1.05,0.59,0.76,0.86,0.89,0.82,0.95,1.08,1.13,1.18,1.09,1.27,1.17,1.07,1.16,1.05,1.28,1.18,1.22],
[1.00,1.06,1.11,1.02,0.98,1.02,1.04,0.58,0.75,0.84,0.87,0.80,0.92,1.05,1.09,1.14,1.05,1.22,1.12,1.02,1.11,1.00,1.22,1.12,1.16],
[1.00,1.05,1.10,1.01,0.97,1.01,1.02,0.57,0.73,0.82,0.84,0.78,0.89,1.01,1.05,1.09,1.01,1.16,1.06,0.97,1.05,0.95,1.16,1.06,1.10],
[1.00,1.05,1.09,1.00,0.95,0.99,1.01,0.56,0.72,0.80,0.82,0.75,0.86,0.97,1.01,1.05,0.97,1.11,1.01,0.92,1.00,0.90,1.10,1.01,1.04],
[1.00,1.04,1.08,0.99,0.94,0.97,0.99,0.55,0.70,0.77,0.79,0.73,0.83,0.93,0.97,1.01,0.94,1.06,0.97,0.88,0.95,0.86,1.04,0.96,0.98],
[1.00,1.03,1.06,0.97,0.90,0.92,0.94,0.53,0.66,0.71,0.72,0.68,0.77,0.85,0.88,0.92,0.87,0.98,0.90,0.82,0.86,0.80,0.94,0.88,0.90],
[1.00,1.09,1.17,1.10,1.12,1.22,1.28,0.76,1.00,1.22,1.28,1.20,1.32,1.50,1.56,1.62,1.55,1.74,1.66,1.52,1.60,1.47,1.68,1.60,1.65],
[1.00,1.06,1.11,1.02,0.99,1.04,1.05,0.59,0.77,0.87,0.90,0.83,0.96,1.12,1.22,1.34,1.26,1.50,1.44,1.32,1.42,1.30,1.58,1.46,1.52],
[1.00,1.09,1.16,1.08,1.07,1.13,1.16,0.70,0.90,1.02,1.06,0.98,1.12,1.30,1.34,1.40,1.30,1.48,1.36,1.22,1.30,1.16,1.36,1.26,1.28],
[1.00,1.08,1.14,1.05,1.03,1.08,1.10,0.64,0.84,0.95,0.99,0.92,1.06,1.26,1.36,1.50,1.40,1.66,1.54,1.38,1.46,1.32,1.56,1.44,1.48],
[1.00,1.05,1.10,1.01,0.97,1.01,1.03,0.57,0.74,0.83,0.86,0.79,0.91,1.03,1.10,1.18,1.10,1.30,1.30,1.20,1.32,1.20,1.52,1.42,1.50],
[1.00,1.08,1.14,1.05,1.02,1.07,1.09,0.65,0.84,0.94,0.98,0.90,1.04,1.18,1.22,1.26,1.16,1.34,1.22,1.08,1.16,1.02,1.20,1.10,1.12],
[1.00,1.07,1.12,1.03,1.00,1.05,1.07,0.61,0.80,0.90,0.93,0.86,0.99,1.18,1.26,1.36,1.26,1.52,1.44,1.30,1.40,1.27,1.62,1.50,1.56]
];
const blue_N1000_L10000 = [
[1.00,1.12,1.25,1.28,1.38,1.50,1.62,0.95,1.55,2.10,1.98,2.00,2.10,2.50,2.68,2.78,2.90,3.08,3.45,3.15,3.05,2.84,3.19,2.78,3.02],
[1.00,1.10,1.20,1.18,1.24,1.36,1.45,0.85,1.25,1.68,1.70,1.65,1.82,2.10,2.25,2.40,2.40,2.62,2.72,2.55,2.60,2.45,2.95,2.80,2.98],
[1.00,1.10,1.19,1.15,1.20,1.30,1.38,0.82,1.15,1.55,1.58,1.52,1.68,1.95,2.08,2.22,2.20,2.50,2.62,2.35,2.42,2.25,2.68,2.52,2.65],
[1.00,1.10,1.18,1.12,1.16,1.26,1.32,0.80,1.08,1.42,1.48,1.42,1.58,1.84,1.96,2.08,2.04,2.34,2.40,2.18,2.25,2.08,2.52,2.36,2.48],
[1.00,1.09,1.17,1.10,1.13,1.22,1.28,0.78,1.02,1.30,1.36,1.30,1.46,1.70,1.80,1.92,1.86,2.12,2.15,1.96,2.05,1.88,2.28,2.14,2.20],
[1.00,1.09,1.16,1.09,1.11,1.19,1.25,0.76,0.98,1.22,1.28,1.22,1.38,1.60,1.68,1.80,1.74,1.98,1.96,1.80,1.90,1.74,2.08,1.96,2.00],
[1.00,1.09,1.16,1.08,1.09,1.16,1.22,0.74,0.95,1.15,1.22,1.16,1.30,1.50,1.58,1.70,1.62,1.86,1.82,1.68,1.76,1.62,1.94,1.82,1.85],
[1.00,1.08,1.15,1.07,1.07,1.14,1.19,0.72,0.92,1.10,1.16,1.10,1.24,1.44,1.50,1.62,1.54,1.76,1.72,1.58,1.66,1.53,1.84,1.72,1.75],
[1.00,1.08,1.15,1.06,1.06,1.12,1.16,0.70,0.90,1.04,1.10,1.04,1.18,1.36,1.42,1.52,1.44,1.66,1.60,1.48,1.56,1.43,1.72,1.60,1.62],
[1.00,1.08,1.14,1.06,1.04,1.10,1.13,0.68,0.87,1.00,1.05,0.99,1.12,1.30,1.36,1.45,1.36,1.58,1.50,1.39,1.48,1.35,1.62,1.50,1.52],
[1.00,1.07,1.13,1.05,1.03,1.08,1.11,0.66,0.85,0.96,1.01,0.95,1.08,1.25,1.30,1.38,1.29,1.50,1.42,1.31,1.40,1.28,1.54,1.42,1.44],
[1.00,1.07,1.13,1.04,1.02,1.07,1.09,0.64,0.83,0.93,0.97,0.91,1.04,1.20,1.25,1.32,1.23,1.43,1.34,1.24,1.33,1.21,1.46,1.34,1.36],
[1.00,1.06,1.12,1.03,1.00,1.05,1.07,0.62,0.80,0.90,0.94,0.88,1.00,1.15,1.20,1.26,1.17,1.36,1.27,1.17,1.26,1.14,1.38,1.27,1.28],
[1.00,1.06,1.11,1.02,0.99,1.03,1.05,0.60,0.78,0.87,0.91,0.85,0.97,1.10,1.15,1.20,1.11,1.29,1.20,1.10,1.19,1.07,1.30,1.19,1.20],
[1.00,1.05,1.10,1.01,0.97,1.01,1.03,0.58,0.76,0.85,0.88,0.82,0.93,1.06,1.10,1.15,1.06,1.23,1.13,1.03,1.12,1.01,1.22,1.12,1.13],
[1.00,1.05,1.09,1.00,0.95,0.99,1.01,0.56,0.74,0.82,0.85,0.79,0.90,1.01,1.05,1.09,1.01,1.16,1.06,0.97,1.05,0.95,1.14,1.05,1.06],
[1.00,1.04,1.08,0.99,0.93,0.96,0.98,0.54,0.71,0.78,0.80,0.75,0.86,0.96,1.00,1.04,0.97,1.10,1.00,0.91,0.98,0.89,1.06,0.98,1.00],
[1.00,1.03,1.06,0.96,0.90,0.93,0.95,0.55,0.68,0.73,0.74,0.70,0.80,0.88,0.92,0.96,0.92,1.02,0.96,0.88,0.96,0.88,1.04,1.00,1.04],
[1.00,1.10,1.20,1.16,1.22,1.32,1.40,0.84,1.30,1.78,1.72,1.65,1.75,1.88,1.92,1.98,1.90,2.12,2.08,1.90,1.96,1.84,2.10,1.94,1.90],
[1.00,1.09,1.17,1.10,1.13,1.24,1.30,0.80,1.12,1.55,1.52,1.44,1.52,1.62,1.66,1.72,1.62,1.80,1.72,1.56,1.64,1.50,1.74,1.62,1.60],
[1.00,1.06,1.11,1.02,0.99,1.04,1.06,0.60,0.80,0.92,0.96,0.90,1.03,1.22,1.32,1.46,1.38,1.64,1.60,1.44,1.54,1.40,1.72,1.58,1.66],
[1.00,1.09,1.16,1.08,1.08,1.15,1.19,0.72,0.94,1.08,1.12,1.05,1.18,1.36,1.40,1.46,1.36,1.56,1.44,1.28,1.36,1.22,1.44,1.32,1.34],
[1.00,1.08,1.14,1.06,1.04,1.10,1.13,0.66,0.88,1.00,1.05,0.98,1.12,1.34,1.44,1.60,1.50,1.80,1.66,1.48,1.56,1.40,1.66,1.52,1.56],
[1.00,1.05,1.10,1.01,0.97,1.01,1.03,0.57,0.76,0.86,0.89,0.83,0.95,1.08,1.16,1.26,1.18,1.42,1.44,1.34,1.48,1.36,1.72,1.60,1.70],
[1.00,1.08,1.14,1.05,1.03,1.08,1.10,0.64,0.86,0.97,1.01,0.94,1.07,1.22,1.26,1.32,1.22,1.40,1.28,1.14,1.22,1.08,1.28,1.16,1.18],
[1.00,1.07,1.13,1.04,1.01,1.06,1.08,0.62,0.83,0.94,0.98,0.91,1.04,1.24,1.32,1.44,1.34,1.62,1.54,1.40,1.50,1.36,1.66,1.52,1.58]
];

const panelBlue = [
  [blue_N10_L0, blue_N10_L1000, blue_N10_L10000],
  [blue_N100_L0, blue_N100_L1000, blue_N100_L10000],
  [blue_N1000_L0, blue_N1000_L1000, blue_N1000_L10000]
];

const W = 3251, H = 2239;
const colPx = [[168,1068],[1248,2150],[2327,3229]];
const rowPx = [[85,682],[802,1397],[1517,2112]];
const FONT = 'DejaVu Sans, Verdana, sans-serif';
const TICK_SIZE = 34;

const traces = [];
const layout = {
  width: W, height: H, margin: {l:0,r:0,t:0,b:0},
  paper_bgcolor: '#ffffff', plot_bgcolor: '#ffffff',
  showlegend: false, font: {family: FONT, size: TICK_SIZE, color: '#000'},
  annotations: [], shapes: []
};

for (let r = 0; r < 3; r++) {
  for (let c = 0; c < 3; c++) {
    const k = r*3 + c + 1;
    const sx = k === 1 ? '' : String(k);
    const xa = 'x' + sx, ya = 'y' + sx;
    traces.push({type:'scatter', mode:'lines', x: redDates, y: redValues, xaxis: xa, yaxis: ya,
      line: {color: '#ff0000', width: 7}, hoverinfo: 'skip'});
    panelBlue[r][c].forEach(v => {
      traces.push({type:'scatter', mode:'lines', x: blueDates, y: v, xaxis: xa, yaxis: ya,
        line: {color: 'rgba(0,0,255,0.24)', width: 4.2}, hoverinfo: 'skip'});
    });
    layout['xaxis' + sx] = {
      type: 'date', domain: [colPx[c][0]/W, colPx[c][1]/W], anchor: ya,
      range: ['2018-12-03', '2023-07-01'],
      showline: true, mirror: true, linecolor: '#000', linewidth: 2,
      showgrid: false, zeroline: false,
      tickmode: 'array', tickvals: yearTickVals, ticktext: yearTickText,
      ticks: 'outside', ticklen: 11, tickwidth: 2, tickcolor: '#000',
      showticklabels: r === 2, tickfont: {family: FONT, size: TICK_SIZE, color: '#000'},
      minor: {tickmode: 'array', tickvals: quarterTicks, ticks: 'outside', ticklen: 7, tickwidth: 2, tickcolor: '#000', showgrid: false}
    };
    layout['yaxis' + sx] = {
      domain: [1 - rowPx[r][1]/H, 1 - rowPx[r][0]/H], anchor: xa,
      range: [0.34, 3.67],
      showline: true, mirror: true, linecolor: '#000', linewidth: 2,
      showgrid: false, zeroline: false,
      tickmode: 'array', tickvals: yTickVals, ticktext: yTickText,
      ticks: 'outside', ticklen: 11, tickwidth: 2, tickcolor: '#000',
      showticklabels: c === 0, tickfont: {family: FONT, size: TICK_SIZE, color: '#000'}
    };
    layout.shapes.push({
      type: 'path', xref: xa + ' domain', yref: ya + ' domain',
      xsizemode: 'pixel', ysizemode: 'pixel', xanchor: 1, yanchor: 1,
      path: 'M -42,-18 L -24,-18 Q -18,-18 -18,-24 L -18,-42 Q -18,-48 -24,-48 L -42,-48 Q -48,-48 -48,-42 L -48,-24 Q -48,-18 -42,-18 Z',
      line: {color: '#d6d6d6', width: 2}, fillcolor: 'rgba(255,255,255,0.8)', layer: 'above'
    });
  }
}

for (let c = 0; c < 3; c++) {
  const cx = (colPx[c][0] + colPx[c][1]) / 2 / W;
  layout.annotations.push({text: lambdaTitles[c], xref:'paper', yref:'paper', x: cx, y: 1 - 46/H,
    xanchor:'center', yanchor:'middle', showarrow:false, font:{family: FONT, size: 42, color:'#000'}});
  layout.annotations.push({text: 'Date', xref:'paper', yref:'paper', x: cx, y: 1 - 2204/H,
    xanchor:'center', yanchor:'middle', showarrow:false, font:{family: FONT, size: TICK_SIZE, color:'#000'}});
}
for (let r = 0; r < 3; r++) {
  const cy = 1 - (rowPx[r][0] + rowPx[r][1]) / 2 / H;
  layout.annotations.push({text: nLabels[r], xref:'paper', yref:'paper', x: 41/W, y: cy,
    xanchor:'center', yanchor:'middle', textangle: -90, showarrow:false, font:{family: FONT, size: TICK_SIZE, color:'#000'}});
}

Plotly.newPlot('chart', traces, layout, {staticPlot: true, displayModeBar: false});
</script>
</body></html>
